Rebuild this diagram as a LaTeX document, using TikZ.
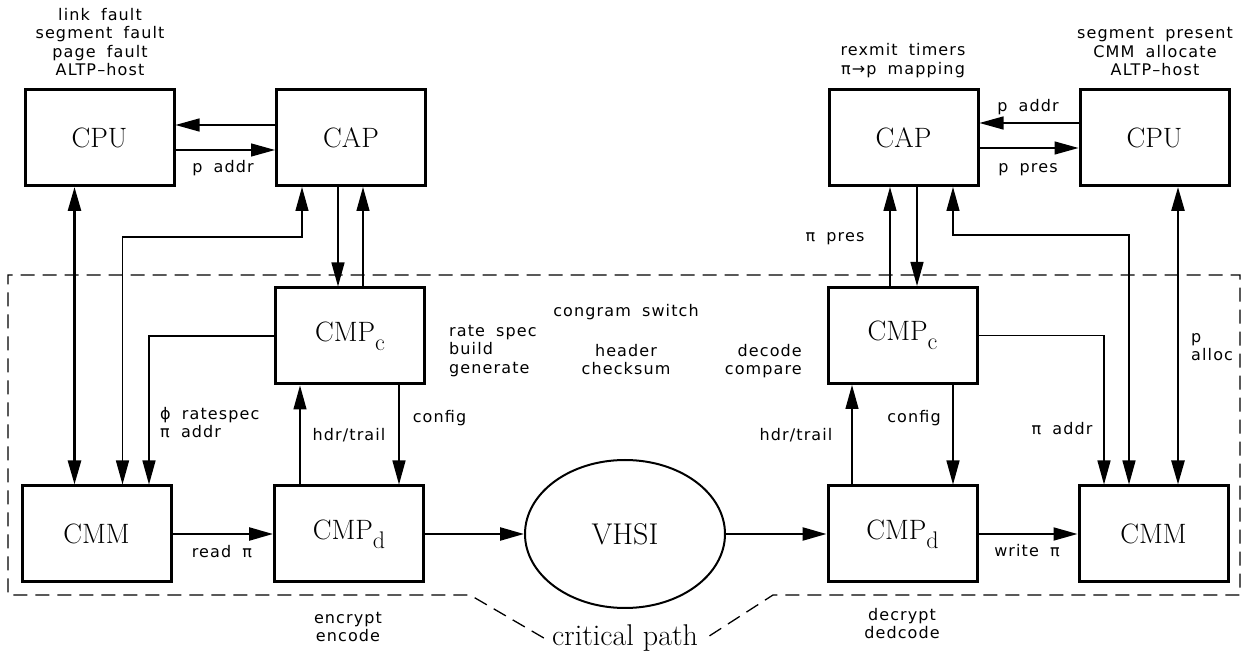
\documentclass[tikz,border=0pt]{standalone}
\usepackage{fontspec}
\newfontfamily\labfont[LetterSpace=7,WordSpace=1.8]{DejaVu Sans}
\usetikzlibrary{arrows.meta,shapes.geometric}
\newcommand\cmpsub[1]{CMP\raisebox{-9pt}{\fontsize{24}{24}\selectfont #1}}
\tikzset{
  box/.style={draw, line width=3pt, minimum width=149pt, minimum height=96pt, inner sep=0pt, font=\fontsize{28}{28}\selectfont},
  lbl/.style={font=\labfont\fontsize{16}{18.5}\selectfont, inner sep=0pt},
  arr/.style={line width=1.3pt, -{Triangle[length=24pt,width=13pt]}},
  arrb/.style={line width=1.3pt, {Triangle[length=24pt,width=13pt]}-{Triangle[length=24pt,width=13pt]}},
  tarr/.style={line width=2.4pt, -{Triangle[length=24pt,width=13pt]}},
  tarrb/.style={line width=2.6pt, {Triangle[length=24pt,width=13pt]}-{Triangle[length=24pt,width=13pt]}},
  frame/.style={line width=1.3pt, dash pattern=on 14pt off 8pt},
}
\begin{document}
\begin{tikzpicture}[x=1pt,y=1pt]
\useasboundingbox (0,0) rectangle (1243,651);
% boxes
\node[box] (cpuL) at (99.5,513.5) {CPU};
\node[box] (capL) at (351,513.5) {CAP};
\node[box] (cmpcL) at (350,315) {\cmpsub{c}};
\node[box] (cmmL) at (96.5,117) {CMM};
\node[box] (cmpdL) at (349,117) {\cmpsub{d}};
\node[draw, ellipse, line width=2pt, minimum width=200pt, minimum height=148pt, inner sep=0pt, font=\fontsize{30}{30}\selectfont] (vhsi) at (625,117) {VHSI};
\node[box] (cmpdR) at (902.5,117) {\cmpsub{d}};
\node[box] (cmmR) at (1153.5,117) {CMM};
\node[box] (cmpcR) at (902.5,315.5) {\cmpsub{c}};
\node[box] (capR) at (903.5,513.5) {CAP};
\node[box] (cpuR) at (1154.5,513.5) {CPU};
% critical path frame
\node[inner xsep=8pt, inner ysep=2pt, font=\fontsize{30}{30}\selectfont] (crit) at (625,13) {critical path};
\draw[frame] (crit.west) -- (470,56) -- (8,56) -- (8,376) -- (1240,376) -- (1240,56) -- (773,56) -- (crit.east);
% left connectors
\draw[arr] ([yshift=12.5pt]capL.west) -- ([yshift=12.5pt]capL.west -| cpuL.east);
\draw[arr] ([yshift=-12.5pt]cpuL.east) -- ([yshift=-12.5pt]cpuL.east -| capL.west);
\draw[tarrb] ([xshift=-25pt]cpuL.south) -- ([xshift=-25pt]cpuL.south |- cmmL.north);
\coordinate (jL) at (200,414);
\draw[arrb] ([xshift=26pt]cmmL.north) |- (jL) -| ([xshift=-49pt]capL.south);
\draw[arr] ([xshift=-13pt]capL.south) -- ([xshift=-13pt]capL.south |- cmpcL.north);
\draw[arr] ([xshift=13pt]cmpcL.north) -- ([xshift=13pt]cmpcL.north |- capL.south);
\draw[arr] (cmpcL.west) -| ([xshift=52.5pt]cmmL.north);
\draw[arr] ([xshift=-49pt]cmpdL.north) -- ([xshift=-49pt]cmpdL.north |- cmpcL.south);
\draw[arr] ([xshift=49pt]cmpcL.south) -- ([xshift=49pt]cmpcL.south |- cmpdL.north);
\draw[tarr] (cmmL.east) -- (cmpdL.west);
\draw[tarr] (cmpdL.east) -- (vhsi.west);
\draw[tarr] (vhsi.east) -- (cmpdR.west);
% right connectors
\draw[arr] ([yshift=14.5pt]cpuR.west) -- ([yshift=14.5pt]cpuR.west -| capR.east);
\draw[arr] ([yshift=-10.5pt]capR.east) -- ([yshift=-10.5pt]capR.east -| cpuR.west);
\draw[arr] ([xshift=13.5pt]capR.south) -- ([xshift=13.5pt]capR.south |- cmpcR.north);
\draw[arr] ([xshift=-12.5pt]cmpcR.north) -- ([xshift=-12.5pt]cmpcR.north |- capR.south);
\coordinate (jR) at (1050,416);
\draw[arrb] ([xshift=-24.5pt]cmmR.north) |- (jR) -| ([xshift=49.5pt]capR.south);
\draw[tarrb] ([xshift=23.5pt]cpuR.south) -- ([xshift=23.5pt]cpuR.south |- cmmR.north);
\draw[arr] (cmpcR.east) -| ([xshift=-49.5pt]cmmR.north);
\draw[arr] ([xshift=-50.5pt]cmpdR.north) -- ([xshift=-50.5pt]cmpdR.north |- cmpcR.south);
\draw[arr] ([xshift=50.5pt]cmpcR.south) -- ([xshift=50.5pt]cmpcR.south |- cmpdR.north);
\draw[line width=1.8pt, -{Triangle[length=24pt,width=13pt]}] (cmpdR.east) -- (cmmR.west);
% top texts
\node[lbl, align=center, anchor=south] (tL) at (100,575) {link fault\\segment fault\\page fault\\ALTP–host};
\node[lbl, align=center, anchor=south] (tC) at (903,573) {rexmit timers\\π→p mapping};
\node[lbl, align=center, anchor=south] (tR) at (1155,575) {segment present\\CMM allocate\\ALTP–host};
% middle texts
\node[lbl, anchor=base] (cs) at (626,334) {congram switch};
\node[lbl, align=left, anchor=north west] (rs) at (449,326) {rate spec\\build\\generate};
\node[lbl, align=center, anchor=north] (hc) at (626,307) {header\\checksum};
\node[lbl, align=right, anchor=north east] (dc) at (802,307) {decode\\compare};
% bottom texts
\node[lbl, align=center, anchor=north] (ee) at (348,39) {encrypt\\encode};
\node[lbl, align=center, anchor=north] (dd) at (902,43) {decrypt\\dedcode};
% edge labels
\node[lbl, anchor=base] (l1) at (223,478) {p addr};
\node[lbl, align=left, anchor=north west] (l2) at (160,244) {ϕ ratespec\\π addr};
\node[lbl, anchor=base] (l3) at (349,210) {hdr/trail};
\node[lbl, anchor=base] (l4) at (439.5,228) {config};
\node[lbl, anchor=base] (l5) at (222,93) {read π};
\node[lbl, anchor=base] (r3) at (796,210) {hdr/trail};
\node[lbl, anchor=base] (r4) at (914,228) {config};
\node[lbl, anchor=base] (r6) at (1062,216) {π addr};
\node[lbl, anchor=base] (r5) at (1027,94) {write π};
\node[lbl, align=left, anchor=north west] (r7) at (1191,318) {p\\alloc};
\node[lbl, anchor=base] (r8) at (835,409) {π pres};
\node[lbl, anchor=base] (r1) at (1028,539) {p addr};
\node[lbl, anchor=base] (r2) at (1028,478) {p pres};
\end{tikzpicture}
\end{document}
